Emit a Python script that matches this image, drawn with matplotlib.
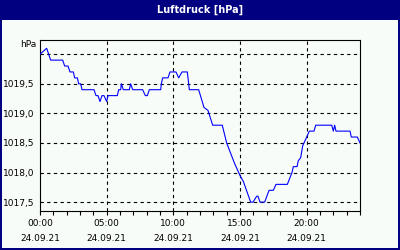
import matplotlib
matplotlib.use("Agg")
import matplotlib.pyplot as plt
from matplotlib.patches import Rectangle

# data: hours since 00:00 24.09.21, pressure in hPa
hours = [0.0, 0.5, 0.8, 1.7, 1.85, 2.1, 2.25, 2.5, 2.6, 2.8, 2.9, 3.05, 3.15, 4.05,
         4.2, 4.35, 4.5, 4.65, 4.8, 5.0, 5.1, 5.8, 5.9, 6.05, 6.1, 6.25, 6.7, 6.8,
         6.95, 7.7, 7.9, 8.05, 8.2, 9.05, 9.1, 9.2, 9.6, 9.75, 10.2, 10.4, 10.65,
         11.05, 11.2, 11.9, 12.3, 12.6, 12.95, 13.67, 14.0, 14.6, 15.0, 15.25,
         15.8, 15.98, 16.25, 16.35, 16.5, 16.85, 17.18, 17.5, 17.7, 18.55, 18.9,
         19.0, 19.28, 19.37, 19.55, 19.7, 20.0, 20.2, 20.55, 20.68, 21.88, 22.0,
         22.1, 22.2, 23.25, 23.35, 23.8, 24.0]
pressure = [1020.0, 1020.1, 1019.9, 1019.9, 1019.8, 1019.8, 1019.7, 1019.7, 1019.6,
            1019.6, 1019.5, 1019.5, 1019.4, 1019.4, 1019.3, 1019.3, 1019.2, 1019.3,
            1019.3, 1019.2, 1019.3, 1019.3, 1019.4, 1019.4, 1019.5, 1019.4, 1019.4,
            1019.5, 1019.4, 1019.4, 1019.3, 1019.3, 1019.4, 1019.4, 1019.5, 1019.6,
            1019.6, 1019.7, 1019.7, 1019.6, 1019.7, 1019.7, 1019.4, 1019.4, 1019.1,
            1019.05, 1018.8, 1018.8, 1018.5, 1018.15, 1017.95, 1017.85, 1017.5,
            1017.5, 1017.6, 1017.6, 1017.5, 1017.5, 1017.7, 1017.7, 1017.8, 1017.8,
            1018.0, 1018.1, 1018.1, 1018.2, 1018.25, 1018.45, 1018.6, 1018.7,
            1018.7, 1018.8, 1018.8, 1018.7, 1018.8, 1018.7, 1018.7, 1018.6, 1018.6,
            1018.5]

title = "Luftdruck [hPa]"
unit = "hPa"
y_ticks = [1017.5, 1018.0, 1018.5, 1019.0, 1019.5]
y_grid = [1017.5, 1018.0, 1018.5, 1019.0, 1019.5, 1020.0]
y_ticklabels = ["1017,5", "1018,0", "1018,5", "1019,0", "1019,5"]
x_major = [0, 5, 10, 15, 20]
x_ticklabels = ["00:00\n24.09.21", "05:00\n24.09.21", "10:00\n24.09.21",
                "15:00\n24.09.21", "20:00\n24.09.21"]
x_minor = list(range(0, 25))

navy = "#000080"
bg = "#f8fcf8"

fig = plt.figure(figsize=(4, 2.5), dpi=100, facecolor=bg)
# title bar and frame
fig.patches.append(Rectangle((0, 1 - 20 / 250), 1, 20 / 250, transform=fig.transFigure,
                             facecolor=navy, edgecolor="none", zorder=0))
fig.patches.append(Rectangle((0, 0), 2 / 400, 1, transform=fig.transFigure,
                             facecolor=navy, edgecolor="none", zorder=0))
fig.patches.append(Rectangle((1 - 2 / 400, 0), 2 / 400, 1, transform=fig.transFigure,
                             facecolor=navy, edgecolor="none", zorder=0))
fig.patches.append(Rectangle((0, 0), 1, 2 / 250, transform=fig.transFigure,
                             facecolor=navy, edgecolor="none", zorder=0))
fig.text(0.5, 1 - 10 / 250, title, color="white", fontsize=7, fontweight="bold",
         ha="center", va="center", family="DejaVu Sans")

ax = fig.add_axes([40 / 400, 1 - 211 / 250, 320 / 400, 171 / 250])
ax.set_facecolor(bg)
ax.plot(hours, pressure, color="#0000ff", lw=0.8, zorder=3)
ax.set_xlim(0, 24)
ax.set_ylim(1017.35, 1020.24)

for v in y_grid:
    ax.axhline(v, color="black", lw=0.8, ls=(0, (3, 3)), zorder=2)
for v in x_major[1:]:
    ax.axvline(v, color="black", lw=0.8, ls=(0, (3, 3)), zorder=2)

ax.set_yticks(y_ticks)
ax.set_yticklabels(y_ticklabels, fontsize=6.5)
ax.tick_params(axis="y", length=0, pad=4)
ax.set_xticks(x_major)
ax.set_xticklabels(x_ticklabels, fontsize=6.5, linespacing=1.85)
ax.set_xticks(x_minor, minor=True)
ax.tick_params(axis="x", which="both", length=3, width=0.8, direction="out", pad=3)
for s in ax.spines.values():
    s.set_linewidth(0.8)
    s.set_color("black")

fig.text(36 / 400, 1 - 45 / 250, unit, fontsize=6.5, ha="right", va="center")

fig.savefig("out.png", dpi=100, facecolor=bg)
